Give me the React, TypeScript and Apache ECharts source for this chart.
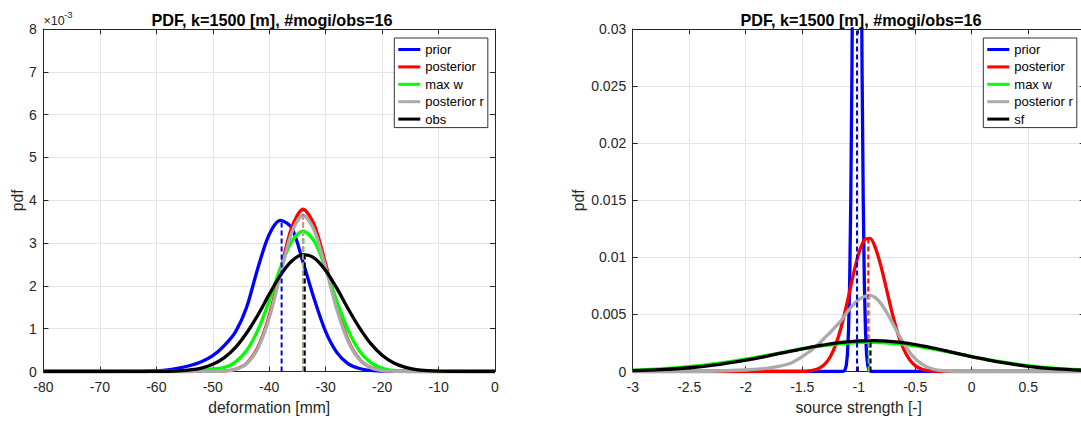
import React, { useEffect, useRef } from "react";
import * as echarts from "echarts";

// ---------------- Left panel: deformation [mm], pdf in units of 1e-3 ----------------
const LEFT_X = [-80, -70, -62, -60, -58, -56, -54, -52, -50, -48, -46, -44, -42, -40, -38, -36, -34, -32, -30, -28, -26, -24, -22, -20, -18, -16, -14, -12, -10, -6, 0];
const L_PRIOR = [0, 0, 0.01, 0.02, 0.04, 0.08, 0.14, 0.23, 0.37, 0.6, 0.92, 1.5, 2.42, 3.2, 3.53, 3.35, 2.55, 1.68, 0.93, 0.44, 0.18, 0.07, 0.025, 0.01, 0.004, 0, 0, 0, 0, 0, 0];
const L_POST = [0, 0, 0, 0, 0, 0, 0, 0.002, 0.004, 0.011, 0.052, 0.19, 0.565, 1.3, 2.36, 3.37, 3.79, 3.42, 2.51, 1.5, 0.725, 0.287, 0.092, 0.024, 0.005, 0.001, 0, 0, 0, 0, 0];
const L_MAXW = [0, 0, 0, 0, 0, 0.004, 0.01, 0.025, 0.06, 0.09, 0.22, 0.49, 0.97, 1.65, 2.42, 3.04, 3.28, 3.04, 2.41, 1.64, 0.96, 0.48, 0.206, 0.076, 0.024, 0.0065, 0.0015, 0, 0, 0, 0];
const L_POSTR = [0, 0, 0, 0, 0, 0, 0, 0.002, 0.004, 0.011, 0.05, 0.18, 0.54, 1.25, 2.27, 3.25, 3.65, 3.29, 2.42, 1.44, 0.7, 0.276, 0.089, 0.023, 0.005, 0.001, 0, 0, 0, 0, 0];
const L_OBS = [0, 0, 0.0005, 0.002, 0.006, 0.015, 0.036, 0.081, 0.168, 0.319, 0.557, 0.9, 1.32, 1.8, 2.25, 2.58, 2.73, 2.65, 2.36, 1.94, 1.46, 1.02, 0.65, 0.38, 0.205, 0.102, 0.046, 0.019, 0.008, 0.001, 0];
const L_MEANS = [-37.8, -34.0, -33.95, -34.0, -33.7];
const L_MEAN_PEAKS = [3.53, 3.79, 3.28, 3.65, 2.73];
const L_X_TICKS = { min: -80, max: 0, interval: 10 };
const L_Y_TICKS = { min: 0, max: 8, interval: 1 };

// ---------------- Right panel: source strength [-] ----------------
const R_PRIOR_X = [-3, -1.2, -1.14, -1.13, -1.12, -1.11, -1.1, -1.09, -1.08, -1.07, -1.06, -1.05, -1.04, -1.03, -1.02, -1.01, -1.0, -0.99, -0.98, -0.97, -0.96, -0.95, -0.94, -0.93, -0.92, -0.91, -0.9, -0.89, -0.83, 1];
const R_PRIOR = [0, 0, 0.00001, 0.00005, 0.00018, 0.00054, 0.00146, 0.00356, 0.00775, 0.0151, 0.0263, 0.041, 0.0573, 0.0715, 0.0799, 0.0799, 0.0715, 0.0573, 0.041, 0.0263, 0.0151, 0.00775, 0.00356, 0.00146, 0.00054, 0.00018, 0.00005, 0.00001, 0, 0];
const R_X = [-3, -2.75, -2.5, -2.25, -2, -1.9, -1.8, -1.7, -1.6, -1.55, -1.5, -1.45, -1.4, -1.35, -1.3, -1.25, -1.2, -1.15, -1.1, -1.05, -1.0, -0.95, -0.9, -0.85, -0.8, -0.75, -0.7, -0.65, -0.6, -0.55, -0.5, -0.45, -0.4, -0.35, -0.3, -0.25, -0.2, -0.1, 0, 0.1, 0.25, 0.5, 0.75, 1];
const R_POST = [0, 0, 0, 0, 0, 0, 0, 0, 0, 0, 0.000013, 0.000042, 0.000116, 0.000289, 0.00065, 0.00132, 0.00244, 0.00407, 0.00613, 0.00837, 0.01033, 0.01153, 0.01166, 0.01077, 0.0091, 0.00704, 0.00498, 0.00323, 0.00191, 0.00104, 0.000516, 0.000235, 0.0000975, 0.000037, 0.000013, 0, 0, 0, 0, 0, 0, 0, 0, 0];
const R_MAXW = [0.000112, 0.000225, 0.000415, 0.0007, 0.00108, 0.00126, 0.00144, 0.00162, 0.0018, 0.00189, 0.00198, 0.00206, 0.00214, 0.00221, 0.00228, 0.00234, 0.00239, 0.00244, 0.00248, 0.00251, 0.00253, 0.00255, 0.00255, 0.00254, 0.00253, 0.0025, 0.00247, 0.00242, 0.00237, 0.00231, 0.00224, 0.00216, 0.00208, 0.00199, 0.0019, 0.0018, 0.00171, 0.00151, 0.00131, 0.00112, 0.000862, 0.000509, 0.000272, 0.000131];
const R_POSTR = [0, 0, 0.00001, 0.00004, 0.00013, 0.0002, 0.0003, 0.00047, 0.00072, 0.001, 0.00131, 0.00164, 0.00201, 0.00246, 0.00296, 0.00344, 0.00397, 0.00454, 0.00523, 0.00582, 0.00629, 0.00657, 0.00666, 0.00645, 0.00591, 0.00513, 0.00423, 0.0033, 0.00244, 0.00171, 0.00113, 0.00071, 0.00042, 0.000238, 0.000127, 0.000065, 0.00003, 0.000005, 0, 0, 0, 0, 0, 0];
const R_SF = [0.0000738, 0.000164, 0.000329, 0.0006, 0.000989, 0.00117, 0.00137, 0.00158, 0.00178, 0.00188, 0.00198, 0.00208, 0.00217, 0.00226, 0.00234, 0.00242, 0.00249, 0.00255, 0.0026, 0.00264, 0.00267, 0.00269, 0.0027, 0.0027, 0.00268, 0.00266, 0.00262, 0.00257, 0.00251, 0.00244, 0.00236, 0.00227, 0.00218, 0.00207, 0.00197, 0.00186, 0.00175, 0.00153, 0.0013, 0.0011, 0.000815, 0.000452, 0.000223, 0.0000979];
const R_MEANS = [-1.015, -0.915, -0.91, -0.905, -0.895];
const R_MEAN_PEAKS = [0.081, 0.01174, 0.00255, 0.00666, 0.0027];
const R_X_TICKS = { min: -3, max: 1, interval: 0.5 };
const R_Y_TICKS = { min: 0, max: 0.03, interval: 0.005 };

const NAMES_LEFT = ["prior", "posterior", "max w", "posterior r", "obs"];
const NAMES_RIGHT = ["prior", "posterior", "max w", "posterior r", "sf"];
const COLORS = ["#0000ff", "#ff0000", "#00ff00", "#aaaaaa", "#000000"];
const TITLE = "PDF, k=1500 [m], #mogi/obs=16";

const FONT = "'Liberation Sans', Arial, Helvetica, sans-serif";
const AX = "#262626";
const GRIDC = "#e4e4e4";

const zip = (xs: number[], ys: number[]) => xs.map((x, i) => [x, ys[i]]);

export default function App() {
  const ref = useRef<HTMLDivElement>(null);
  useEffect(() => {
    document.body.style.margin = "0";
    document.body.style.overflow = "hidden";
    const chart = echarts.init(ref.current!, undefined, { renderer: "svg" });

    const grids = [
      { left: 43.4, top: 29, width: 451.6, height: 342.5 },
      { left: 632.7, top: 29, width: 452, height: 342.5 },
    ];

    const mainX = (gi: number, t: any, name: string) => ({
      gridIndex: gi, type: "value", ...t, position: "bottom",
      axisLine: { show: true, onZero: false, lineStyle: { color: AX, width: 1 } },
      axisTick: { show: true, inside: true, length: 5, lineStyle: { color: AX } },
      axisLabel: { color: AX, fontSize: 14, fontFamily: FONT, margin: 8.5, showMaxLabel: gi === 0 },
      splitLine: { show: true, lineStyle: { color: GRIDC, width: 1 } },
      name, nameLocation: "middle", nameGap: 28,
      nameTextStyle: { color: AX, fontSize: 15.7, fontFamily: FONT },
    });
    const topX = (gi: number, t: any) => ({
      gridIndex: gi, type: "value", ...t, position: "top",
      axisLine: { show: true, onZero: false, lineStyle: { color: AX, width: 1 } },
      axisTick: { show: true, inside: true, length: 5, lineStyle: { color: AX } },
      axisLabel: { show: false }, splitLine: { show: false },
    });
    const mainY = (gi: number, t: any, fmt: any, gap: number) => ({
      gridIndex: gi, type: "value", ...t, position: "left",
      axisLine: { show: true, onZero: false, lineStyle: { color: AX, width: 1 } },
      axisTick: { show: true, inside: true, length: 5, lineStyle: { color: AX } },
      axisLabel: { color: AX, fontSize: 14, fontFamily: FONT, margin: 6.5, formatter: fmt },
      splitLine: { show: true, lineStyle: { color: GRIDC, width: 1 } },
      name: "pdf", nameLocation: "middle", nameGap: gap, nameRotate: 90,
      nameTextStyle: { color: AX, fontSize: 15.7, fontFamily: FONT },
    });
    const rightY = (gi: number, t: any) => ({
      gridIndex: gi, type: "value", ...t, position: "right",
      axisLine: { show: true, onZero: false, lineStyle: { color: AX, width: 1 } },
      axisTick: { show: true, inside: true, length: 5, lineStyle: { color: AX } },
      axisLabel: { show: false }, splitLine: { show: false },
    });

    const curve = (name: string, color: string, data: number[][], xi: number, yi: number, smooth: any) => ({
      type: "line", name, xAxisIndex: xi, yAxisIndex: yi, data, smooth,
      symbol: "none", showSymbol: false, silent: true, clip: true,
      lineStyle: { color, width: 3.3 }, itemStyle: { color },
    });
    const dash = (color: string, x: number, peak: number, xi: number, yi: number) => ({
      type: "line", name: "_mean", xAxisIndex: xi, yAxisIndex: yi,
      data: [[x, 0], [x, peak]], symbol: "none", showSymbol: false, silent: true, clip: true,
      lineStyle: { color, width: 2, type: [5, 3] }, itemStyle: { color },
    });

    const leftSets = [L_PRIOR, L_POST, L_MAXW, L_POSTR, L_OBS];
    const rightSets: [number[], number[]][] = [
      [R_PRIOR_X, R_PRIOR], [R_X, R_POST], [R_X, R_MAXW], [R_X, R_POSTR], [R_X, R_SF],
    ];

    const series: any[] = [];
    leftSets.forEach((ys, i) => series.push(curve(NAMES_LEFT[i], COLORS[i], zip(LEFT_X, ys), 0, 0, 0.3)));
    rightSets.forEach(([xs, ys], i) => series.push(curve(NAMES_RIGHT[i], COLORS[i], zip(xs, ys), 2, 2, i === 0 ? false : 0.3)));
    L_MEANS.forEach((m, i) => series.push(dash(COLORS[i], m, L_MEAN_PEAKS[i], 0, 0)));
    R_MEANS.forEach((m, i) => series.push(dash(COLORS[i], m, R_MEAN_PEAKS[i], 2, 2)));

    const legendBase = {
      orient: "vertical", top: 38, itemWidth: 22, itemHeight: 3, itemGap: 2.4, icon: "rect",
      padding: [4, 4, 1, 4], borderColor: "#333", borderWidth: 1, backgroundColor: "#fff",
      textStyle: { fontSize: 13, color: "#000", fontFamily: FONT, lineHeight: 15 },
      selectedMode: false,
    };

    chart.setOption({
      animation: false,
      backgroundColor: "#fff",
      textStyle: { fontFamily: FONT },
      title: [
        { text: TITLE, left: 267, top: 7, textAlign: "center", textStyle: { fontSize: 16.2, fontWeight: "bold", color: "#000", fontFamily: FONT } },
        { text: TITLE, left: 856, top: 7, textAlign: "center", textStyle: { fontSize: 16.2, fontWeight: "bold", color: "#000", fontFamily: FONT } },
      ],
      grid: grids,
      xAxis: [mainX(0, L_X_TICKS, "deformation [mm]"), topX(0, L_X_TICKS), mainX(1, R_X_TICKS, "source strength [-]"), topX(1, R_X_TICKS)],
      yAxis: [
        mainY(0, L_Y_TICKS, (v: number) => String(Math.round(v)), 17),
        rightY(0, L_Y_TICKS),
        mainY(1, R_Y_TICKS, (v: number) => String(Math.round(v * 1000) / 1000), 46),
        rightY(1, R_Y_TICKS),
      ],
      legend: [
        { ...legendBase, left: 394.3, data: NAMES_LEFT },
        { ...legendBase, left: 983.3, data: NAMES_RIGHT },
      ],
      graphic: [
        { type: "text", x: 43.5, y: 21, style: { text: "\u00d710", fontSize: 12.5, fill: AX, fontFamily: FONT, textVerticalAlign: "middle" } },
        { type: "text", x: 64, y: 14.5, style: { text: "-3", fontSize: 9.5, fill: AX, fontFamily: FONT, textVerticalAlign: "middle" } },
      ],
      series,
    });
    return () => chart.dispose();
  }, []);
  return <div ref={ref} style={{ width: 1090, height: 421 }} />;
}
